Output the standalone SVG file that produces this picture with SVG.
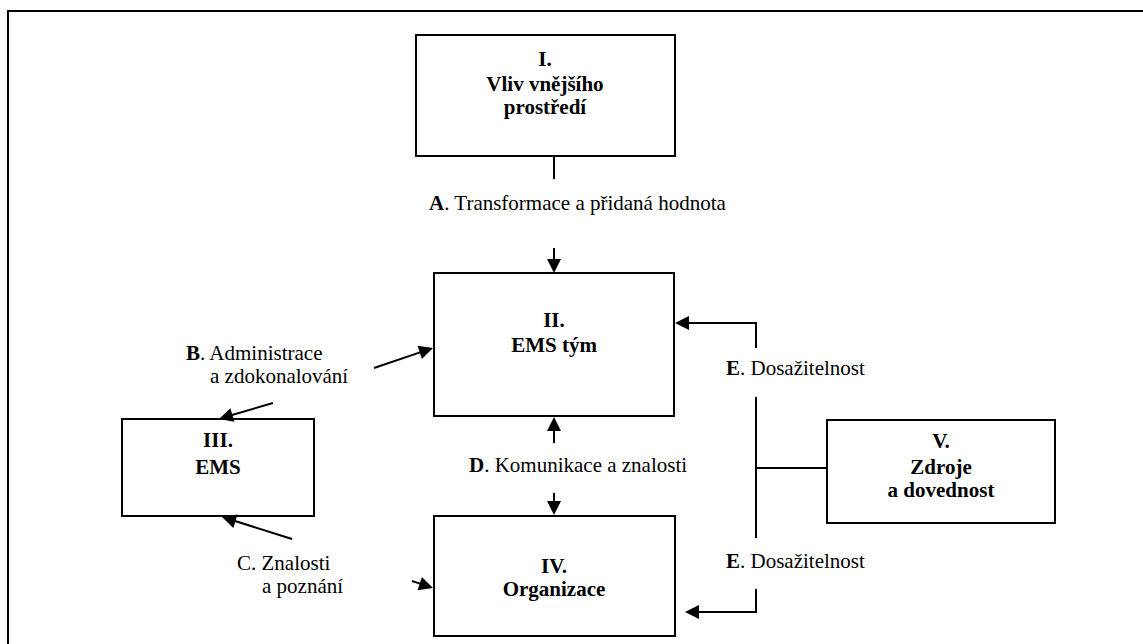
<svg xmlns="http://www.w3.org/2000/svg" width="1143" height="644" viewBox="0 0 1143 644">
  <style>
    .box { fill: #fff; stroke: #000; stroke-width: 2; }
    .title { font-family: "Liberation Serif", "Times New Roman", serif; font-size: 21px; font-weight: bold; text-anchor: middle; fill: #000; }
    .lbl { font-family: "Liberation Serif", "Times New Roman", serif; font-size: 21px; fill: #000; }
    .k { font-weight: bold; }
    .wire { fill: none; stroke: #000; stroke-width: 2; }
    .head { fill: #000; stroke: none; }
  </style>
  <rect width="1143" height="644" fill="#fff"/>
  <!-- outer frame (top and left edges) -->
  <path d="M8,650 L8,11 L1150,11" fill="none" stroke="#000" stroke-width="2"/>

  <g id="node-I">
    <rect class="box" x="416" y="35" width="259" height="121"/>
    <text class="title" x="545" y="66">I.</text>
    <text class="title" x="545" y="91">Vliv vnějšího</text>
    <text class="title" x="545" y="114">prostředí</text>
  </g>
  <g id="node-II">
    <rect class="box" x="434" y="273" width="240" height="143"/>
    <text class="title" x="554" y="327">II.</text>
    <text class="title" x="554" y="352">EMS tým</text>
  </g>
  <g id="node-III">
    <rect class="box" x="122" y="419" width="192" height="97"/>
    <text class="title" x="218" y="447">III.</text>
    <text class="title" x="218" y="474">EMS</text>
  </g>
  <g id="node-IV">
    <rect class="box" x="434" y="516" width="241" height="120"/>
    <text class="title" x="554" y="573">IV.</text>
    <text class="title" x="554" y="596">Organizace</text>
  </g>
  <g id="node-V">
    <rect class="box" x="827" y="420" width="228" height="103"/>
    <text class="title" x="941" y="448">V.</text>
    <text class="title" x="941" y="474">Zdroje</text>
    <text class="title" x="941" y="497">a dovednost</text>
  </g>

  <g id="connectors">
    <!-- A: I to II -->
    <path class="wire" d="M554,156 L554,179"/>
    <path class="wire" d="M554,248 L554,260"/>
    <polygon class="head" points="547,259 561,259 554,273"/>
    <!-- B: to II and to III -->
    <path class="wire" d="M374,368 L420,352.4"/>
    <polygon class="head" points="433,348 421.9,359.1 417.5,345.8"/>
    <path class="wire" d="M273,403 L232,415"/>
    <polygon class="head" points="219,419 234.4,421.7 230.4,408.3"/>
    <!-- C: to III and to IV -->
    <path class="wire" d="M292,539 L235,521"/>
    <polygon class="head" points="222,517 233.3,527.9 237.5,514.5"/>
    <path class="wire" d="M412,581 L420,583.6"/>
    <polygon class="head" points="433,588 417.5,590.2 421.9,577"/>
    <!-- D: II and IV -->
    <path class="wire" d="M554,443 L554,430"/>
    <polygon class="head" points="547,431 561,431 554,417"/>
    <path class="wire" d="M554,493 L554,502"/>
    <polygon class="head" points="547,501 561,501 554,515"/>
    <!-- E: V to II and IV -->
    <path class="wire" d="M756,348 L756,323 L688,323"/>
    <polygon class="head" points="689,316 689,330 675,323"/>
    <path class="wire" d="M756,397 L756,538"/>
    <path class="wire" d="M756,468 L827,468"/>
    <path class="wire" d="M756,589 L756,612 L698,612"/>
    <polygon class="head" points="699,605 699,619 685,612"/>
  </g>

  <g id="labels">
    <text class="lbl" x="429" y="210"><tspan class="k">A</tspan>. Transformace a přidaná hodnota</text>
    <text class="lbl" x="186" y="360"><tspan class="k">B</tspan>. Administrace</text>
    <text class="lbl" x="210" y="383">a zdokonalování</text>
    <text class="lbl" x="237" y="570">C. Znalosti</text>
    <text class="lbl" x="262" y="593">a poznání</text>
    <text class="lbl" x="469" y="472"><tspan class="k">D</tspan>. Komunikace a znalosti</text>
    <text class="lbl" x="726" y="375"><tspan class="k">E</tspan>. Dosažitelnost</text>
    <text class="lbl" x="726" y="568"><tspan class="k">E</tspan>. Dosažitelnost</text>
  </g>
</svg>
